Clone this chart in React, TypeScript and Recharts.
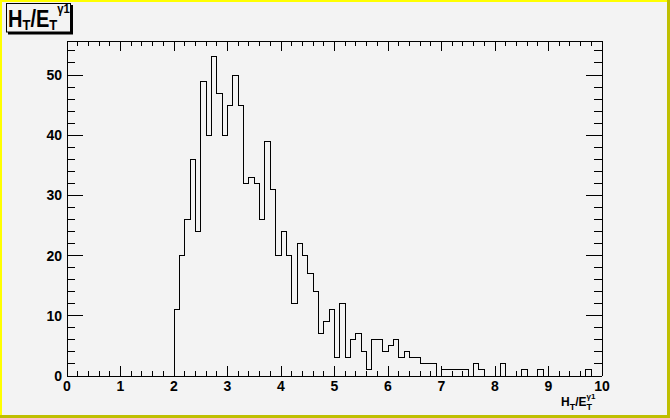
import React from 'react';
import { LineChart, Line, XAxis, YAxis } from 'recharts';

// Histogram bin low edges (bin width 0.1), last entry is the upper edge of the final bin
const binLowEdges: number[] = [
  0, 0.1, 0.2, 0.3, 0.4, 0.5, 0.6, 0.7, 0.8, 0.9,
  1, 1.1, 1.2, 1.3, 1.4, 1.5, 1.6, 1.7, 1.8, 1.9,
  2, 2.1, 2.2, 2.3, 2.4, 2.5, 2.6, 2.7, 2.8, 2.9,
  3, 3.1, 3.2, 3.3, 3.4, 3.5, 3.6, 3.7, 3.8, 3.9,
  4, 4.1, 4.2, 4.3, 4.4, 4.5, 4.6, 4.7, 4.8, 4.9,
  5, 5.1, 5.2, 5.3, 5.4, 5.5, 5.6, 5.7, 5.8, 5.9,
  6, 6.1, 6.2, 6.3, 6.4, 6.5, 6.6, 6.7, 6.8, 6.9,
  7, 7.1, 7.2, 7.3, 7.4, 7.5, 7.6, 7.7, 7.8, 7.9,
  8, 8.1, 8.2, 8.3, 8.4, 8.5, 8.6, 8.7, 8.8, 8.9,
  9, 9.1, 9.2, 9.3, 9.4, 9.5, 9.6, 9.7, 9.8, 9.9,
  10,
];

// Entries per bin
const binCounts: number[] = [
  0, 0, 0, 0, 0, 0, 0, 0, 0, 0,
  0, 0, 0, 0, 0, 0, 0, 0, 0, 0,
  11, 20, 26, 36, 24, 49, 40, 53, 47, 40,
  45, 50, 45, 32, 33, 32, 26, 39, 31, 20,
  24, 20, 12, 22, 20, 17, 14, 7, 9, 11,
  3, 12, 3, 6, 7, 4, 1, 6, 6, 4,
  5, 6, 3, 4, 3, 3, 2, 2, 2, 0,
  1, 1, 1, 1, 1, 0, 2, 1, 0, 0,
  0, 2, 0, 0, 0, 1, 0, 0, 1, 0,
  0, 0, 0, 0, 0, 0, 0, 1, 0, 0,
];

const xTickValues: number[] = [
  0, 0.2, 0.4, 0.6, 0.8, 1, 1.2, 1.4, 1.6, 1.8, 2, 2.2, 2.4, 2.6, 2.8, 3,
  3.2, 3.4, 3.6, 3.8, 4, 4.2, 4.4, 4.6, 4.8, 5, 5.2, 5.4, 5.6, 5.8, 6,
  6.2, 6.4, 6.6, 6.8, 7, 7.2, 7.4, 7.6, 7.8, 8, 8.2, 8.4, 8.6, 8.8, 9,
  9.2, 9.4, 9.6, 9.8, 10,
];
const xMajorLabels: number[] = [0, 1, 2, 3, 4, 5, 6, 7, 8, 9, 10];

const yTickValues: number[] = [
  0, 2, 4, 6, 8, 10, 12, 14, 16, 18, 20, 22, 24, 26, 28, 30,
  32, 34, 36, 38, 40, 42, 44, 46, 48, 50, 52, 54,
];
const yMajorLabels: number[] = [0, 10, 20, 30, 40, 50];

const X_DOMAIN: [number, number] = [0, 10];
const Y_DOMAIN: [number, number] = [0, 55.65];

const data = binLowEdges.map((x, i) => ({
  x,
  y: i < binCounts.length ? binCounts[i] : binCounts[binCounts.length - 1],
}));

const FONT = '"Liberation Sans", Arial, Helvetica, sans-serif';
const BG = '#f3f3f3';

const isXMajor = (v: number) => xMajorLabels.some((m) => Math.abs(m - v) < 1e-6);
const isYMajor = (v: number) => yMajorLabels.some((m) => Math.abs(m - v) < 1e-6);

const BottomTick = (props: any) => {
  const { x, y, payload } = props;
  const v = payload.value as number;
  const major = isXMajor(v);
  return (
    <g>
      <line x1={x} y1={y} x2={x} y2={y - (major ? 10 : 5)} stroke="#000" shapeRendering="crispEdges" />
      {major && (
        <text x={x} y={y + 15} textAnchor="middle" fontFamily={FONT} fontWeight="bold" fontSize={14} fill="#000">
          {String(Math.round(v))}
        </text>
      )}
    </g>
  );
};

const TopTick = (props: any) => {
  const { x, y, payload } = props;
  const major = isXMajor(payload.value);
  return <line x1={x} y1={y} x2={x} y2={y + (major ? 10 : 5)} stroke="#000" shapeRendering="crispEdges" />;
};

const LeftTick = (props: any) => {
  const { x, y, payload } = props;
  const v = payload.value as number;
  const major = isYMajor(v);
  return (
    <g>
      <line x1={x} y1={y} x2={x + (major ? 16 : 8)} y2={y} stroke="#000" shapeRendering="crispEdges" />
      {major && (
        <text x={x - 5} y={y} dy="0.36em" textAnchor="end" fontFamily={FONT} fontWeight="bold" fontSize={14} fill="#000">
          {String(v)}
        </text>
      )}
    </g>
  );
};

const RightTick = (props: any) => {
  const { x, y, payload } = props;
  const major = isYMajor(payload.value);
  return <line x1={x} y1={y} x2={x - (major ? 16 : 8)} y2={y} stroke="#000" shapeRendering="crispEdges" />;
};

const axisLineStyle = { stroke: '#000', shapeRendering: 'crispEdges' } as any;

export default function App() {
  return (
    <div style={{ position: 'absolute', left: 0, top: 0, width: 670, height: 418, background: BG, overflow: 'hidden' }}>
      <LineChart width={670} height={418} data={data} margin={{ top: 40, right: 67, bottom: 0, left: 0 }}>
        <XAxis
          xAxisId="bottom"
          dataKey="x"
          type="number"
          domain={X_DOMAIN}
          allowDataOverflow
          ticks={xTickValues}
          interval={0}
          orientation="bottom"
          height={42}
          tickSize={0}
          tickMargin={0}
          tickLine={false}
          axisLine={axisLineStyle}
          tick={(p: any) => <BottomTick {...p} />}
        />
        <XAxis
          xAxisId="top"
          dataKey="x"
          type="number"
          domain={X_DOMAIN}
          allowDataOverflow
          ticks={xTickValues}
          interval={0}
          orientation="top"
          height={1}
          tickSize={0}
          tickMargin={0}
          tickLine={false}
          axisLine={axisLineStyle}
          tick={(p: any) => <TopTick {...p} />}
        />
        <YAxis
          yAxisId="left"
          type="number"
          domain={Y_DOMAIN}
          allowDataOverflow
          ticks={yTickValues}
          interval={0}
          orientation="left"
          width={67}
          tickSize={0}
          tickMargin={0}
          tickLine={false}
          axisLine={axisLineStyle}
          tick={(p: any) => <LeftTick {...p} />}
        />
        <YAxis
          yAxisId="right"
          type="number"
          domain={Y_DOMAIN}
          allowDataOverflow
          ticks={yTickValues}
          interval={0}
          orientation="right"
          width={1}
          tickSize={0}
          tickMargin={0}
          tickLine={false}
          axisLine={axisLineStyle}
          tick={(p: any) => <RightTick {...p} />}
        />
        <Line
          xAxisId="bottom"
          yAxisId="left"
          type="stepAfter"
          dataKey="y"
          stroke="#000"
          strokeWidth={1}
          dot={false}
          activeDot={false}
          isAnimationActive={false}
          shapeRendering="crispEdges"
        />
      </LineChart>
      <svg
        width={670}
        height={418}
        style={{ position: 'absolute', left: 0, top: 0, pointerEvents: 'none' }}
      >
        {/* canvas bevel border */}
        <rect x={0} y={0} width={670} height={2} fill="#ffff00" />
        <rect x={0} y={0} width={2} height={418} fill="#ffff00" />
        <rect x={0} y={415} width={670} height={3} fill="#bfbf00" />
        <rect x={667} y={0} width={3} height={418} fill="#bfbf00" />
        {/* title box with shadow */}
        <rect x={8} y={5} width={65} height={29.5} fill="#000" />
        <rect x={6.5} y={3.5} width={64} height={28.5} fill={BG} stroke="#000" strokeWidth={1} />
        <g transform="translate(8,0) scale(0.87,1)">
          <text x={0} y={26.7} fontFamily={FONT} fontWeight="bold" fontSize={23} fill="#000">
            H
            <tspan fontSize={15} dy={3.3}>T</tspan>
            <tspan fontSize={23} dy={-3.3}>/E</tspan>
            <tspan fontSize={15} dy={3.3}>T</tspan>
            <tspan fontSize={13} dy={-17}>γ1</tspan>
          </text>
        </g>
        {/* x axis title */}
        <text x={561} y={406} fontFamily={FONT} fontWeight="bold" fontSize={12} fill="#000">
          H
          <tspan fontSize={9} dy={4}>T</tspan>
          <tspan fontSize={12} dy={-4}>/E</tspan>
          <tspan fontSize={9} dy={4}>T</tspan>
          <tspan fontSize={8} dx={-5.5} dy={-11}>γ1</tspan>
        </text>
      </svg>
    </div>
  );
}
